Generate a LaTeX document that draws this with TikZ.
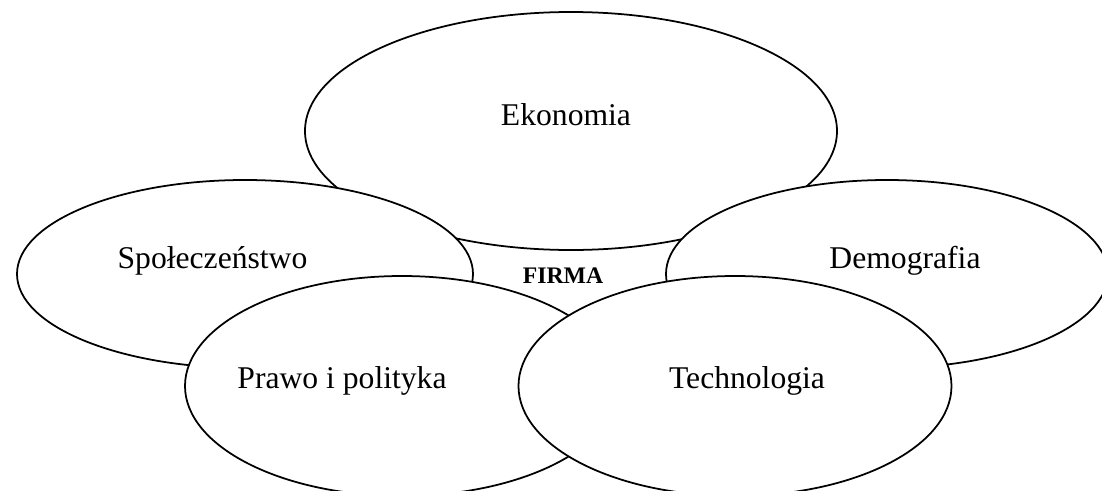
\documentclass[tikz,border=0pt]{standalone}
\usepackage{fontspec}
\setmainfont{Liberation Serif}
\usepackage{tikz}
\usetikzlibrary{shapes.geometric, positioning}

\begin{document}
\begin{tikzpicture}[
    area/.style={draw, line width=1pt, fill=white, ellipse, inner sep=0pt},
    areatext/.style={anchor=base, font=\fontsize{18}{22}\selectfont},
]
    \useasboundingbox (0,0) rectangle (22.04,9.8);

    % Ellipsen (von hinten nach vorne)
    \node[area, minimum width=10.64cm, minimum height=4.76cm] (ekonomia) at (11.42, 7.18) {};
    \node[area, minimum width=9.12cm, minimum height=3.76cm] (spoleczenstwo) at (4.90, 4.32) {};
    \node[area, minimum width=8.84cm, minimum height=3.76cm] (demografia) at (17.74, 4.32) {};
    \node[area, minimum width=8.68cm, minimum height=4.40cm] (prawo) at (8.04, 2.08) {};
    \node[area, minimum width=8.66cm, minimum height=4.40cm] (technologia) at (14.70, 2.08) {};

    % Beschriftungen
    \node[areatext] (ekonomiaText) at (11.32, 7.30) {Ekonomia};
    \node[areatext] (spoleczenstwoText) at (4.25, 4.44) {Społeczeństwo};
    \node[areatext] (demografiaText) at (18.10, 4.44) {Demografia};
    \node[areatext] (prawoText) at (6.84, 2.04) {Prawo i polityka};
    \node[areatext] (technologiaText) at (14.94, 2.04) {Technologia};
    \node[anchor=base, font=\fontsize{13.5}{16}\selectfont\bfseries] (firma) at (11.26, 4.14) {FIRMA};
\end{tikzpicture}
\end{document}
